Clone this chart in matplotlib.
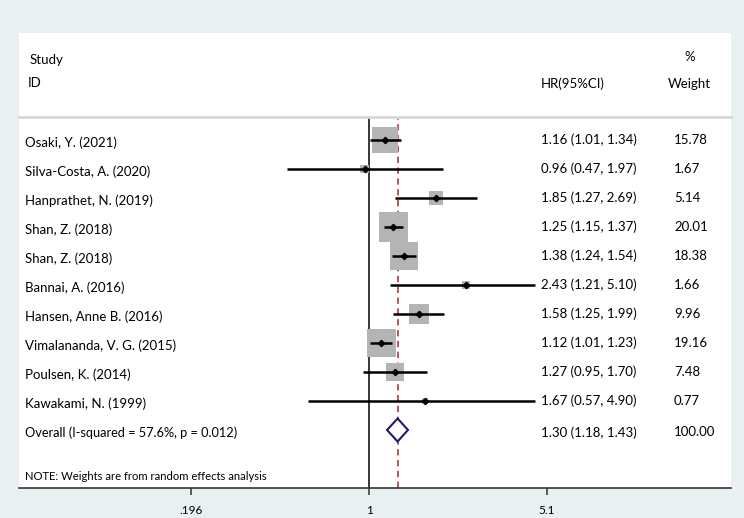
import numpy as np
import matplotlib
matplotlib.use("Agg")
import matplotlib.pyplot as plt
from matplotlib.patches import Rectangle, Polygon
from matplotlib.transforms import blended_transform_factory

plt.rcParams['font.family'] = ['Lato', 'DejaVu Sans']

studies = ["Osaki, Y. (2021)", "Silva-Costa, A. (2020)", "Hanprathet, N. (2019)",
           "Shan, Z. (2018)", "Shan, Z. (2018)", "Bannai, A. (2016)",
           "Hansen, Anne B. (2016)", "Vimalananda, V. G. (2015)",
           "Poulsen, K. (2014)", "Kawakami, N. (1999)"]
hr = [1.16, 0.96, 1.85, 1.25, 1.38, 2.43, 1.58, 1.12, 1.27, 1.67]
lo = [1.01, 0.47, 1.27, 1.15, 1.24, 1.21, 1.25, 1.01, 0.95, 0.57]
hi = [1.34, 1.97, 2.69, 1.37, 1.54, 5.10, 1.99, 1.23, 1.70, 4.90]
weight = [15.78, 1.67, 5.14, 20.01, 18.38, 1.66, 9.96, 19.16, 7.48, 0.77]

overall_label = "Overall (I-squared = 57.6%, p = 0.012)"
overall_hr, overall_lo, overall_hi = 1.30, 1.18, 1.43
overall_weight = 100.00

tick_vals = [0.196, 1, 5.1]
tick_labels = [".196", "1", "5.1"]

bg = "#e8f0f2"
W, H = 744, 518
fig = plt.figure(figsize=(W / 100, H / 100), dpi=100, facecolor=bg)

# white panel behind everything
fig.patches.append(Rectangle((19 / W, 1 - 488 / H), (731 - 19) / W, (488 - 33) / H,
                             transform=fig.transFigure, facecolor="white",
                             edgecolor="none", zorder=-5))

# forest plot axes: x 19..731 px, y 117..488 px
ax = fig.add_axes([19 / W, 1 - 488 / H, (731 - 19) / W, (488 - 117) / H])
ax.set_facecolor("none")
ax.set_xscale("log")
px_per_ln = 109.0
ax.set_xlim(np.exp((19 - 369) / px_per_ln), np.exp((731 - 369) / px_per_ln))
row_px = 29.0
ax.set_ylim(1 + (488 - 140) / row_px, 1 + (117 - 140) / row_px)

clip_hi = np.exp((535 - 369) / px_per_ln)

rows = np.arange(1, len(studies) + 1)
ax.axvline(1, color="black", lw=1.1, zorder=1)
ax.axvline(overall_hr, color="#b5474e", lw=1.3, ls=(0, (3.5, 2.5)), zorder=1)

# weight boxes (area ~ weight)
ax.scatter(hr, rows, marker="s", s=np.array(weight) * 21.8, color="#b4b4b4",
           linewidths=0, zorder=2)
for y, l, h in zip(rows, lo, hi):
    ax.plot([l, min(h, clip_hi)], [y, y], color="black", lw=1.8,
            solid_capstyle="butt", zorder=3)
ax.plot(hr, rows, "D", color="black", ms=3.2, zorder=4)

ov_row = len(studies) + 1
half_h = 11.5 / row_px
ax.add_patch(Polygon([(overall_lo, ov_row), (overall_hr, ov_row - half_h),
                      (overall_hi, ov_row), (overall_hr, ov_row + half_h)],
                     closed=True, facecolor="white", edgecolor="#1b1b72",
                     lw=1.5, zorder=4))

for s in ["top", "right", "left"]:
    ax.spines[s].set_visible(False)
ax.spines["bottom"].set_color("#333333")
ax.spines["bottom"].set_linewidth(1.2)
ax.set_yticks([])
ax.set_xticks(tick_vals)
ax.set_xticklabels(tick_labels)
ax.xaxis.set_minor_locator(matplotlib.ticker.NullLocator())
ax.tick_params(axis="x", direction="out", length=5, width=1.1, color="#333333",
               labelsize=8.5, pad=7)

# header separator
sep_y = 1 - 117 / H
fig.add_artist(plt.Line2D([19 / W, 731 / W], [sep_y, sep_y], color="#d8d8d8", lw=2))

fs = 9.5
tr = blended_transform_factory(fig.transFigure, ax.transData)
x_name, x_hr, x_w = 25 / W, 541 / W, 674 / W
for y, name, e, l, h, w in zip(rows, studies, hr, lo, hi, weight):
    ax.text(x_name, y + 0.08, name, transform=tr, fontsize=fs, va="center", clip_on=False)
    ax.text(x_hr, y, f"{e:.2f} ({l:.2f}, {h:.2f})", transform=tr, fontsize=fs,
            va="center", clip_on=False)
    ax.text(x_w, y, f"{w:.2f}", transform=tr, fontsize=fs, va="center", clip_on=False)

ax.text(x_name, ov_row + 0.08, overall_label, transform=tr, fontsize=9.2, va="center")
ax.text(x_hr, ov_row + 0.08, f"{overall_hr:.2f} ({overall_lo:.2f}, {overall_hi:.2f})",
        transform=tr, fontsize=fs, va="center")
ax.text(x_w, ov_row + 0.08, f"{overall_weight:.2f}", transform=tr, fontsize=fs, va="center")
ax.text(x_name, 1 + (476 - 140) / row_px, "NOTE: Weights are from random effects analysis",
        transform=tr, fontsize=8.1, va="center")

# header
fig.text(30 / W, 1 - 60 / H, "Study", fontsize=fs, va="center")
fig.text(28 / W, 1 - 83 / H, "ID", fontsize=fs, va="center")
fig.text(x_hr, 1 - 84 / H, "HR(95%CI)", fontsize=fs, va="center")
fig.text(690 / W, 1 - 57 / H, "%", fontsize=fs, va="center", ha="center")
fig.text(689 / W, 1 - 84 / H, "Weight", fontsize=fs, va="center", ha="center")

fig.savefig("out.png", dpi=100, facecolor=bg)
